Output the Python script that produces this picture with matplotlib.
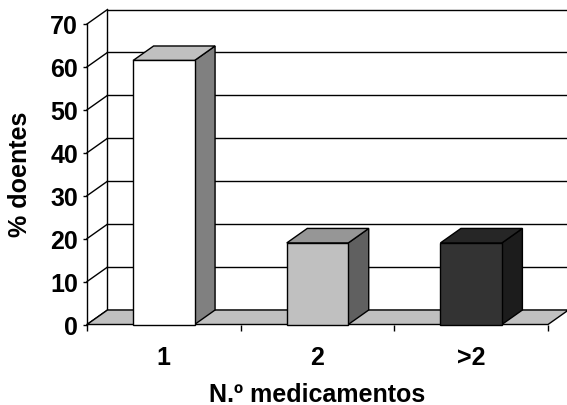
import matplotlib
matplotlib.use("Agg")
import matplotlib.pyplot as plt
from matplotlib.patches import Polygon
from matplotlib.transforms import ScaledTranslation

categories = ["1", "2", ">2"]
values = [61.5, 19, 19]
y_ticks = [0, 10, 20, 30, 40, 50, 60, 70]

face_colors = ["#ffffff", "#c0c0c0", "#333333"]
side_colors = ["#808080", "#606060", "#1c1c1c"]
top_colors = ["#c0c0c0", "#969696", "#262626"]

plt.rcParams["font.family"] = ["Liberation Sans", "DejaVu Sans"]
plt.rcParams["font.weight"] = "bold"

W, H, DPI = 567, 406, 100
FS = 18
fig = plt.figure(figsize=(W / DPI, H / DPI), dpi=DPI)
ax = fig.add_axes([87 / W, (H - 325.5) / H, (548 - 87) / W, 300.5 / H])

n = len(categories)
x0, x1 = -0.5, n - 0.5
ymax = y_ticks[-1]
ax.set_xlim(x0, x1)
ax.set_ylim(0, ymax)

# depth offset for the oblique projection (inches)
depth = ScaledTranslation(0.205, 0.145, fig.dpi_scale_trans)
back = ax.transData + depth
lw = 1.0

# back wall
ax.add_patch(Polygon([(x0, 0), (x1, 0), (x1, ymax), (x0, ymax)], closed=True,
                     facecolor="white", edgecolor="black", lw=lw,
                     transform=back, clip_on=False, zorder=0))
for v in y_ticks[1:-1]:
    ax.plot([x0, x1], [v, v], color="black", lw=lw, transform=back,
            clip_on=False, zorder=1)

# left wall grid lines linking the front axis to the back wall
for v in y_ticks:
    p_front = ax.transData.transform((x0, v))
    p_back = back.transform((x0, v))
    ax.plot([p_front[0], p_back[0]], [p_front[1], p_back[1]], color="black",
            lw=lw, transform=None, clip_on=False, zorder=1)

# floor
p0 = ax.transData.transform((x0, 0))
p1 = ax.transData.transform((x1, 0))
p2 = back.transform((x1, 0))
p3 = back.transform((x0, 0))
ax.add_patch(Polygon([p0, p1, p2, p3], closed=True, facecolor="#c0c0c0",
                     edgecolor="black", lw=lw, transform=None,
                     clip_on=False, zorder=2))

# bars
bw = 0.4
for i, (v, fc, sc, tc) in enumerate(zip(values, face_colors, side_colors, top_colors)):
    l, r = i - bw / 2, i + bw / 2
    fl = ax.transData.transform((l, 0))
    fr = ax.transData.transform((r, 0))
    ftl = ax.transData.transform((l, v))
    ftr = ax.transData.transform((r, v))
    bl = back.transform((l, v))
    br = back.transform((r, v))
    bbr = back.transform((r, 0))
    ax.add_patch(Polygon([fr, ftr, br, bbr], closed=True, facecolor=sc,
                         edgecolor="black", lw=lw, transform=None,
                         clip_on=False, zorder=3))
    ax.add_patch(Polygon([ftl, ftr, br, bl], closed=True, facecolor=tc,
                         edgecolor="black", lw=lw, transform=None,
                         clip_on=False, zorder=3))
    ax.add_patch(Polygon([fl, fr, ftr, ftl], closed=True, facecolor=fc,
                         edgecolor="black", lw=lw, transform=None,
                         clip_on=False, zorder=4))

for s in ["top", "right", "bottom"]:
    ax.spines[s].set_visible(False)
ax.spines["left"].set_linewidth(lw)
ax.spines["left"].set_zorder(5)
ax.patch.set_visible(False)

ax.set_yticks(y_ticks)
ax.set_yticklabels([str(t) for t in y_ticks])
ax.tick_params(axis="y", length=3, width=lw, pad=3.5, labelsize=FS)

ax.set_xticks([x0 + k for k in range(n + 1)])
ax.set_xticklabels([""] * (n + 1))
ax.set_xticks(range(n), minor=True)
ax.set_xticklabels(categories, minor=True)
ax.tick_params(axis="x", which="major", length=4, width=lw, direction="out")
ax.tick_params(axis="x", which="minor", length=0, pad=15, labelsize=FS)

ax.set_xlabel("N.º medicamentos", fontsize=FS, fontweight="bold")
ax.xaxis.label.set_va("center")
ax.xaxis.set_label_coords(0.5, (325.5 - 395) / 300.5)
ax.set_ylabel("% doentes", fontsize=FS, fontweight="bold")
ax.yaxis.label.set_va("center")
ax.yaxis.set_label_coords((20 - 87) / 461, (325.5 - 174) / 300.5)

fig.savefig("out.png", dpi=DPI)
